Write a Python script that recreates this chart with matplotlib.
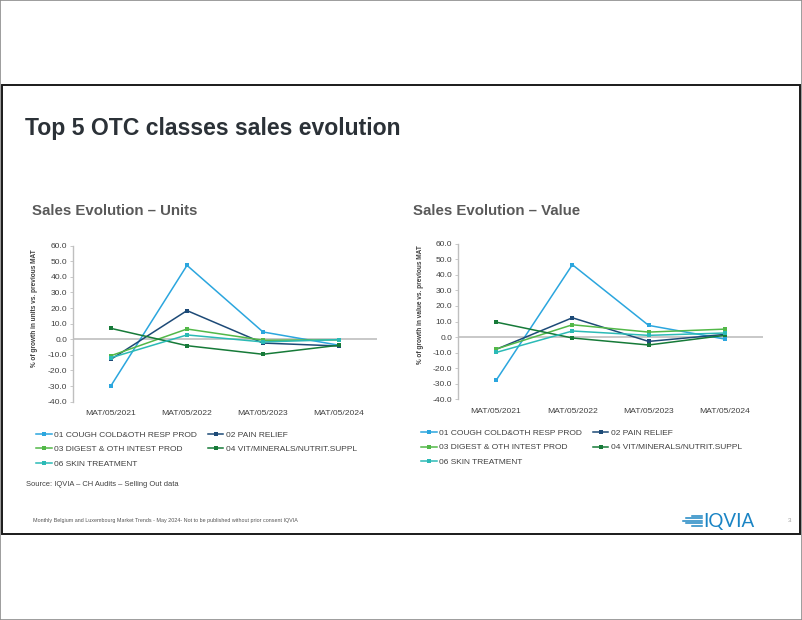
import numpy as np
import matplotlib
matplotlib.use("Agg")
import matplotlib.pyplot as plt
from matplotlib.patches import Rectangle
from matplotlib.lines import Line2D

plt.rcParams['font.family'] = ['Liberation Sans', 'DejaVu Sans']

# --- data ---
periodos = ["MAT/05/2021", "MAT/05/2022", "MAT/05/2023", "MAT/05/2024"]
clases = ["01 COUGH COLD&OTH RESP PROD", "02 PAIN RELIEF", "03 DIGEST & OTH INTEST PROD",
          "04 VIT/MINERALS/NUTRIT.SUPPL", "06 SKIN TREATMENT"]
colores = ["#2ba6de", "#1d4a77", "#52b848", "#167a38", "#2bbab6"]

unidades_01 = [-29.7, 47.4, 4.7, -3.8]
unidades_02 = [-12.8, 18.4, -2.4, -4.3]
unidades_03 = [-10.5, 6.6, -0.6, -0.4]
unidades_04 = [7.0, -4.1, -9.6, -3.8]
unidades_06 = [-11.8, 2.8, -1.7, -0.2]

valor_01 = [-27.8, 46.5, 7.5, -1.3]
valor_02 = [-7.9, 12.4, -2.8, 1.7]
valor_03 = [-7.7, 7.9, 3.2, 5.1]
valor_04 = [9.6, -0.6, -5.1, 1.1]
valor_06 = [-9.9, 3.9, 1.1, 2.6]

ticks_y = [-40, -30, -20, -10, 0, 10, 20, 30, 40, 50, 60]

W, H = 802, 620
GRIS_EJE = "#bfbfbf"
GRIS_TXT = "#404040"


def fx(px):
    return px / W


def fy(py):
    return 1 - py / H


def dibujar_panel(fig, rect, series, etiqueta_y, x_lab, y_lab):
    ax = fig.add_axes(rect)
    x = np.arange(len(periodos))
    lineas = []
    for datos, color, nombre in zip(series, colores, clases):
        ln, = ax.plot(x, datos, color=color, lw=1.1, marker='s', markersize=3.4,
                      markeredgewidth=0, label=nombre, zorder=3)
        lineas.append(ln)
    ax.axhline(0, color=GRIS_EJE, lw=1.2, zorder=1)
    ax.set_xlim(-0.5, len(periodos) - 0.5)
    ax.set_ylim(-40, 60)
    ax.set_yticks(ticks_y)
    ax.set_yticklabels([f"{v:.1f}" for v in ticks_y])
    ax.set_xticks(x)
    ax.set_xticklabels(periodos)
    ax.tick_params(axis='x', length=0, pad=6, labelsize=6.1, labelcolor=GRIS_TXT)
    ax.tick_params(axis='y', length=2, width=0.6, color=GRIS_EJE, pad=2,
                   labelsize=6.1, labelcolor=GRIS_TXT)
    for lado in ['top', 'right', 'bottom']:
        ax.spines[lado].set_visible(False)
    ax.spines['left'].set_color(GRIS_EJE)
    ax.spines['left'].set_linewidth(1.0)
    ax.patch.set_alpha(0)
    fig.text(fx(x_lab), fy(y_lab), etiqueta_y, rotation=90, ha='center', va='center',
             fontsize=4.7, fontweight='bold', color=GRIS_TXT)
    return ax, lineas


fig = plt.figure(figsize=(W / 100, H / 100), dpi=100)

# marcos de la diapositiva
fig.add_artist(Rectangle((0, 0), 1, 1, transform=fig.transFigure, fill=False,
                         edgecolor="#8c8c8c", lw=1.2))
fig.add_artist(Rectangle((fx(2), fy(534)), fx(798), (534 - 85) / H, transform=fig.transFigure,
                         fill=False, edgecolor="#1a1a1a", lw=1.4))

fig.text(fx(25), fy(128), "Top 5 OTC classes sales evolution", fontsize=16.6,
         fontweight='bold', color="#2b3137", ha='left', va='center')
fig.text(fx(32), fy(211.5), "Sales Evolution \u2013 Units", fontsize=10.8,
         fontweight='bold', color="#595959", ha='left', va='center')
fig.text(fx(413), fy(211.5), "Sales Evolution \u2013 Value", fontsize=10.8,
         fontweight='bold', color="#595959", ha='left', va='center')

ax1, lin1 = dibujar_panel(fig, [fx(73), fy(401.7), fx(304), 156 / H],
                          [unidades_01, unidades_02, unidades_03, unidades_04, unidades_06],
                          "% of growth in units vs. previous MAT", 35, 308)
ax2, lin2 = dibujar_panel(fig, [fx(458), fy(399.3), fx(305), 155.6 / H],
                          [valor_01, valor_02, valor_03, valor_04, valor_06],
                          "% of growth in value vs. previous MAT", 420, 305)

orden = [0, 2, 4, 1, 3]
for lineas, x0, y0 in [(lin1, 36, 431.5), (lin2, 421, 429.5)]:
    hs = []
    for i in orden:
        hs.append(Line2D([], [], color=colores[i], lw=1.1, marker='s', markersize=2.8,
                         markeredgewidth=0))
    fig.legend(hs, [clases[i] for i in orden], ncol=2, loc='upper left',
               bbox_to_anchor=(fx(x0), fy(y0)), frameon=False, fontsize=6,
               handlelength=1.9, handletextpad=0.25, columnspacing=1.3,
               labelspacing=0.75, borderpad=0, borderaxespad=0,
               labelcolor=GRIS_TXT)

fig.text(fx(26), fy(484), "Source: IQVIA \u2013 CH Audits \u2013 Selling Out data", fontsize=5.4,
         color=GRIS_TXT, ha='left', va='center')
fig.text(fx(33), fy(520.5),
         "Monthly Belgium and Luxembourg Market Trends - May 2024- Not to be published without prior consent IQVIA",
         fontsize=3.9, color="#555555", ha='left', va='center')

# logo IQVIA
for xa, yy in [(692, 515.5), (686, 518), (683, 520.5), (686, 523), (692, 525.5)]:
    fig.add_artist(Line2D([fx(xa), fx(702)], [fy(yy), fy(yy)], transform=fig.transFigure,
                          color="#1e86c2", lw=1.1))
fig.text(fx(703), fy(521), "IQVIA", fontsize=13.5, color="#1a84c4", ha='left', va='center',
         fontfamily='Lato')
fig.text(fx(790), fy(520), "3", fontsize=4.5, color="#a0a0a0", ha='center', va='center')

fig.savefig("out.png", dpi=100)
